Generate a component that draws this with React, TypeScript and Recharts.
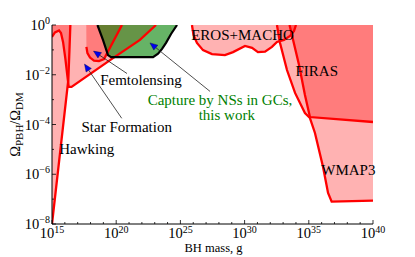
import { ComposedChart, Area, XAxis, YAxis, ReferenceLine, ReferenceDot, Label } from 'recharts';

// all values are log10: x = log10(M / g), y = log10(Omega_PBH / Omega_DM)
const hawking = [
    { x: 15.0, y: -8.0 },
    { x: 16.27, y: -2.21 },
    { x: 16.36, y: -1.0 },
    { x: 16.43, y: 0 },
];

const starFormation = [
    { x: 15.0, y: -0.48 },
    { x: 15.23, y: -0.3 },
    { x: 15.55, y: -0.22 },
    { x: 15.7, y: -0.32 },
    { x: 15.86, y: -0.68 },
    { x: 16.04, y: -1.35 },
    { x: 16.19, y: -2.01 },
    { x: 16.3, y: -2.49 },
    { x: 16.52, y: -2.49 },
    { x: 19.75, y: -1.33 },
    { x: 21.85, y: -0.6 },
    { x: 23.1, y: 0 },
];

const femtolensing = [
    { x: 17.67, y: 0 },
    { x: 17.68, y: -0.88 },
    { x: 17.76, y: -1.13 },
    { x: 17.96, y: -1.31 },
    { x: 18.27, y: -1.43 },
    { x: 18.66, y: -1.45 },
    { x: 19.05, y: -1.37 },
    { x: 19.75, y: -0.68 },
    { x: 20.45, y: 0 },
];

const erosMacho = [
    { x: 25.9, y: 0 },
    { x: 26.02, y: -0.4 },
    { x: 26.29, y: -0.72 },
    { x: 26.76, y: -1.01 },
    { x: 27.46, y: -1.17 },
    { x: 28.47, y: -1.21 },
    { x: 29.1, y: -1.09 },
    { x: 30.03, y: -0.84 },
    { x: 30.58, y: -0.92 },
    { x: 31.04, y: -1.09 },
    { x: 31.59, y: -1.07 },
    { x: 32.13, y: -0.88 },
    { x: 32.52, y: -0.68 },
    { x: 33.07, y: -0.6 },
    { x: 33.54, y: -0.44 },
    { x: 33.85, y: -0.24 },
    { x: 34.0, y: 0 },
];

const wmap3 = [
    { x: 32.52, y: 0 },
    { x: 32.76, y: -0.72 },
    { x: 33.3, y: -1.81 },
    { x: 33.93, y: -2.73 },
    { x: 34.7, y: -3.54 },
    { x: 35.09, y: -3.74 },
    { x: 35.48, y: -4.34 },
    { x: 36.11, y: -5.71 },
    { x: 36.5, y: -6.75 },
    { x: 36.78, y: -7.1 },
    { x: 40.0, y: -7.06 },
];

const firas = [
    { x: 33.5, y: 0 },
    { x: 34.24, y: -1.61 },
    { x: 34.7, y: -2.81 },
    { x: 35.09, y: -3.7 },
    { x: 40.0, y: -3.9 },
];

const captureNS = [
    { x: 18.54, y: 0 },
    { x: 18.97, y: -0.6 },
    { x: 19.36, y: -1.21 },
    { x: 19.6, y: -1.29 },
    { x: 22.87, y: -1.29 },
    { x: 23.26, y: -1.15 },
    { x: 23.57, y: -0.96 },
    { x: 23.88, y: -0.72 },
    { x: 24.27, y: -0.36 },
    { x: 24.74, y: 0 },
];

// femtolensing has no red line on its vertical left edge
const redFills = [hawking, starFormation, femtolensing, erosMacho, wmap3, firas];
const redLines = [hawking, starFormation, femtolensing.slice(1), erosMacho, wmap3, firas];

const xMajor = [15, 20, 25, 30, 35, 40];
const yMajor = [-8, -6, -4, -2, 0];
const xTicks = Array.from({ length: 26 }, (_, i) => 15 + i);
const yTicks = Array.from({ length: 9 }, (_, i) => -8 + i);

const notes = [
    { text: 'Femtolensing', x: 21.93, y: -2.41, color: '#000' },
    { text: 'Star Formation', x: 20.82, y: -4.32, color: '#000' },
    { text: 'Hawking', x: 17.7, y: -5.19, color: '#000' },
    { text: 'Capture by NSs in GCs,', x: 28.08, y: -3.2, color: '#008000' },
    { text: 'this work', x: 28.61, y: -3.82, color: '#008000' },
    { text: 'EROS+MACHO', x: 29.84, y: -0.6, color: '#000' },
    { text: 'FIRAS', x: 35.62, y: -2.05, color: '#000' },
    { text: 'WMAP3', x: 38.08, y: -6.03, color: '#000' },
];

const arrows = [
    { x1: 20.84, y1: -1.95, x2: 18.23, y2: -1.05 },
    { x1: 20.43, y1: -3.75, x2: 17.53, y2: -1.57 },
    { x1: 27.31, y1: -2.67, x2: 22.63, y2: -0.72 },
];

const FONT = 'Liberation Serif';
const minus = (v: number) => (v < 0 ? '\u2212' + Math.abs(v) : String(v));

const XTick = (props: any) => {
    const { x, y, payload, side } = props;
    const v = payload.value;
    const major = xMajor.includes(v);
    const len = major ? 4 : 2;
    const dir = side === 'top' ? 1 : -1;
    return (
        <g>
            <line x1={x} y1={y} x2={x} y2={y + dir * len} stroke="#000" strokeWidth={0.8} />
            {side === 'bottom' && major && (
                <text x={x} y={y + 14} textAnchor="middle" fontFamily={FONT} fontSize={14.5} fill="#000">
                    10<tspan dy={-5} fontSize={10}>{minus(v)}</tspan>
                </text>
            )}
        </g>
    );
};

const YTick = (props: any) => {
    const { x, y, payload, side } = props;
    const v = payload.value;
    const major = yMajor.includes(v);
    const len = major ? 4 : 2;
    const dir = side === 'left' ? 1 : -1;
    return (
        <g>
            <line x1={x} y1={y} x2={x + dir * len} y2={y} stroke="#000" strokeWidth={0.8} />
            {side === 'left' && major && (
                <text x={x - 2} y={y + 5} textAnchor="end" fontFamily={FONT} fontSize={14.5} fill="#000">
                    10<tspan dy={-6} fontSize={10}>{minus(v)}</tspan>
                </text>
            )}
        </g>
    );
};

const XTitle = (props: any) => {
    const vb = props.viewBox;
    return (
        <text x={vb.x + vb.width / 2 + 1} y={vb.y + 28} textAnchor="middle" fontFamily={FONT} fontSize={12.5} fill="#000">
            BH mass, g
        </text>
    );
};

const YTitle = (props: any) => {
    const vb = props.viewBox;
    const cx = vb.x + 20;
    const cy = vb.y + vb.height / 2;
    return (
        <text x={cx} y={cy} transform={`rotate(-90, ${cx}, ${cy})`} textAnchor="middle" fontFamily={FONT} fontSize={14.5} fill="#000">
            Ω<tspan dy={3} fontSize={11}>PBH</tspan>
            <tspan dy={-3}>/Ω</tspan>
            <tspan dy={3} fontSize={11}>DM</tspan>
        </text>
    );
};

const Arrow = (props: any) => {
    const { x1, y1, x2, y2 } = props;
    const a = Math.atan2(y2 - y1, x2 - x1);
    const L = 7.5;
    const W = 3.2;
    const bx = x2 - L * Math.cos(a);
    const by = y2 - L * Math.sin(a);
    const px = -Math.sin(a) * W;
    const py = Math.cos(a) * W;
    return (
        <g>
            <line x1={x1} y1={y1} x2={bx} y2={by} stroke="#222" strokeWidth={0.8} />
            <polygon points={`${x2},${y2} ${bx + px},${by + py} ${bx - px},${by - py}`} fill="#0000ee" stroke="#000040" strokeWidth={0.4} />
        </g>
    );
};

export default function App() {
    return (
        <div style={{ position: 'absolute', left: 0, top: 0, background: '#fff' }}>
            <ComposedChart width={415} height={257} margin={{ top: 25, right: 42, bottom: 0, left: 0 }}>
                <XAxis
                    type="number"
                    dataKey="x"
                    domain={[15, 40]}
                    allowDataOverflow
                    ticks={xTicks}
                    interval={0}
                    tickSize={0}
                    tickMargin={0}
                    tickLine={false}
                    axisLine={{ stroke: '#000', strokeWidth: 1 }}
                    height={33}
                    tick={<XTick side="bottom" />}
                >
                    <Label content={XTitle} />
                </XAxis>
                <XAxis
                    xAxisId="top"
                    orientation="top"
                    type="number"
                    dataKey="x"
                    domain={[15, 40]}
                    allowDataOverflow
                    ticks={xTicks}
                    interval={0}
                    tickSize={0}
                    tickMargin={0}
                    tickLine={false}
                    axisLine={{ stroke: '#000', strokeWidth: 1 }}
                    height={0}
                    tick={<XTick side="top" />}
                />
                <YAxis
                    type="number"
                    domain={[-8, 0]}
                    allowDataOverflow
                    ticks={yTicks}
                    interval={0}
                    tickSize={0}
                    tickMargin={0}
                    tickLine={false}
                    axisLine={{ stroke: '#000', strokeWidth: 1 }}
                    width={52}
                    tick={<YTick side="left" />}
                >
                    <Label content={YTitle} />
                </YAxis>
                <YAxis
                    yAxisId="right"
                    orientation="right"
                    type="number"
                    domain={[-8, 0]}
                    allowDataOverflow
                    ticks={yTicks}
                    interval={0}
                    tickSize={0}
                    tickMargin={0}
                    tickLine={false}
                    axisLine={{ stroke: '#000', strokeWidth: 1 }}
                    width={0}
                    tick={<YTick side="right" />}
                />

                {redFills.map((d, i) => (
                    <Area
                        key={`fill-${i}`}
                        data={d}
                        dataKey="y"
                        type="linear"
                        baseValue={0}
                        stroke="none"
                        fill="#ff0000"
                        fillOpacity={0.3}
                        dot={false}
                        activeDot={false}
                        isAnimationActive={false}
                    />
                ))}
                <Area
                    data={captureNS}
                    dataKey="y"
                    type="linear"
                    baseValue={0}
                    stroke="none"
                    fill="#008000"
                    fillOpacity={0.6}
                    dot={false}
                    activeDot={false}
                    isAnimationActive={false}
                />
                {redLines.map((d, i) => (
                    <Area
                        key={`line-${i}`}
                        data={d}
                        dataKey="y"
                        type="linear"
                        baseValue={0}
                        stroke="#ff0000"
                        strokeWidth={2.3}
                        fill="none"
                        dot={false}
                        activeDot={false}
                        isAnimationActive={false}
                    />
                ))}
                <Area
                    data={captureNS}
                    dataKey="y"
                    type="linear"
                    baseValue={0}
                    stroke="#000"
                    strokeWidth={2.2}
                    fill="none"
                    dot={false}
                    activeDot={false}
                    isAnimationActive={false}
                />

                {arrows.map((a, i) => (
                    <ReferenceLine
                        key={`arr-${i}`}
                        segment={[{ x: a.x1, y: a.y1 }, { x: a.x2, y: a.y2 }]}
                        shape={Arrow}
                    />
                ))}
                {notes.map((n, i) => (
                    <ReferenceDot
                        key={`note-${i}`}
                        x={n.x}
                        y={n.y}
                        r={0}
                        shape={(p: any) => (
                            <text x={p.cx} y={p.cy} textAnchor="middle" fontFamily={FONT} fontSize={15} fill={n.color}>
                                {n.text}
                            </text>
                        )}
                    />
                ))}
            </ComposedChart>
        </div>
    );
}
